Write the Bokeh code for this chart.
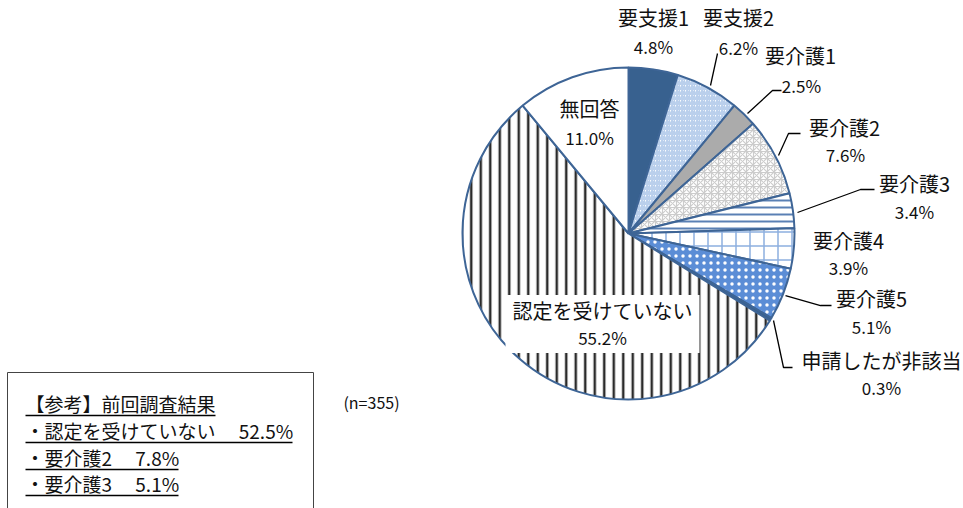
import math
from bokeh.plotting import figure
from bokeh.models import ColumnDataSource
from bokeh.core.properties import value
from bokeh.embed import file_html
from bokeh.resources import INLINE

# ---- data ----
categories = ["要支援1", "要支援2", "要介護1", "要介護2", "要介護3",
              "要介護4", "要介護5", "申請したが非該当", "認定を受けていない", "無回答"]
percents = [4.8, 6.2, 2.5, 7.6, 3.4, 3.9, 5.1, 0.3, 55.2, 11.0]
n_label = "(n=355)"
ref_title = "【参考】前回調査結果"
ref_lines = ["・認定を受けていない　 52.5%", "・要介護2　 7.8%", "・要介護3　 5.1%"]

# ---- styles ----
fills = ["#38618F", "#FFFFFF", "#ABABAB", "#FFFFFF", "#FFFFFF",
         "#FFFFFF", "#5B8DD6", "#38618F", "#FFFFFF", "#FFFFFF"]
hatches = [" ", "/", " ", "*", "-", "+", ".", " ", "|", " "]
hcolors = ["#38618F", "#B9CFEC", "#ABABAB", "#CCCCCC", "#5A80B4",
           "#8DB0E0", "#FFFFFF", "#38618F", "#2B2B2B", "#FFFFFF"]
hscales = [6, 5, 6, 7, 7, 14, 7, 6, 9.5, 6]
hweights = [1, 2.2, 1, 1.2, 2, 1.5, 5, 1, 2.5, 1]

W, H = 963, 508
CX, CY, R = 628, 233, 166
EDGE = "#3E6596"
FONT = "Noto Sans CJK JP"

def Y(v):
    return H - v

# pie angles, clockwise from top
starts, ends = [], []
cum = 0.0
total = sum(percents)
for v in percents:
    starts.append(math.pi / 2 - 2 * math.pi * cum / total)
    cum += v
    ends.append(math.pi / 2 - 2 * math.pi * cum / total)

src = ColumnDataSource(dict(
    start=starts, end=ends, fill=fills, hatch=hatches, hcol=hcolors,
    hscale=hscales, hweight=hweights, cat=categories, pct=percents))

p = figure(width=W, height=H, x_range=(0, W), y_range=(0, H),
           x_axis_type=None, y_axis_type=None, min_border=0,
           toolbar_location=None, output_backend="svg")
p.grid.visible = False
p.outline_line_color = None
p.background_fill_color = "white"

p.wedge(x=CX, y=Y(CY), radius=R, start_angle="start", end_angle="end",
        direction="clock", source=src, fill_color="fill",
        hatch_pattern="hatch", hatch_color="hcol", hatch_scale="hscale",
        hatch_weight="hweight", line_color=EDGE, line_width=2)

# ---- label layout (pixel positions: name centre, pct centre) ----
name_pos = [(653, 17), (738, 17), (800, 55), (844, 127), (914, 183),
            (848, 240), (871, 298), (881, 360), (602, 310), (589, 108)]
pct_pos = [(653, 46), (738, 47), (801, 85), (845, 154), (914, 211),
           (848, 267), (871, 326), (881, 387), (602, 337), (589, 137)]

# white box behind the large slice's label
big = categories.index("認定を受けていない")
p.rect(x=[name_pos[big][0]], y=[Y((name_pos[big][1] + pct_pos[big][1]) / 2)],
       width=194, height=58, fill_color="white", line_color=None)

lab = ColumnDataSource(dict(
    nx=[q[0] for q in name_pos], ny=[Y(q[1]) for q in name_pos],
    px=[q[0] for q in pct_pos], py=[Y(q[1]) for q in pct_pos],
    name=categories, pct=[f"{v:.1f}%" for v in percents]))
p.text(x="nx", y="ny", text="name", source=lab, text_align="center",
       text_baseline="middle", text_font=value(FONT), text_font_size="20px",
       text_color="#111111")
p.text(x="px", y="py", text="pct", source=lab, text_align="center",
       text_baseline="middle", text_font=value(FONT), text_font_size="17px",
       text_color="#111111")

# leader lines
leaders = [
    [(710, 85), (717, 53)],
    [(747, 113), (772, 90), (781, 90)],
    [(778, 155), (788, 133), (800, 133)],
    [(797, 212), (860, 189), (874, 189)],
    [(785, 295), (820, 305), (831, 305)],
    [(773, 320), (783, 367), (792, 367)],
]
p.multi_line(xs=[[a for a, b in L] for L in leaders],
             ys=[[Y(b) for a, b in L] for L in leaders],
             line_color="black", line_width=1.3)

# n label
p.text(x=[371], y=[Y(401)], text=[n_label], text_align="center",
       text_baseline="middle", text_font=value(FONT), text_font_size="16px",
       text_color="#111111")

# reference box
p.quad(left=[7], right=[313], top=[Y(372)], bottom=[Y(515)],
       fill_color="white", line_color="#444444", line_width=1)
ref_texts = [ref_title] + ref_lines
ref_y = [403, 430, 457, 483]
p.text(x=[25] * 4, y=[Y(v) for v in ref_y], text=ref_texts,
       text_align="left", text_baseline="middle", text_font=value(FONT),
       text_font_size="19px", text_color="#111111")
ul_right = [215, 292, 178, 178]
p.segment(x0=[25] * 4, x1=ul_right, y0=[Y(v + 12) for v in ref_y],
          y1=[Y(v + 12) for v in ref_y], line_color="black", line_width=1.3)

open("out.html", "w").write(file_html(p, INLINE))
